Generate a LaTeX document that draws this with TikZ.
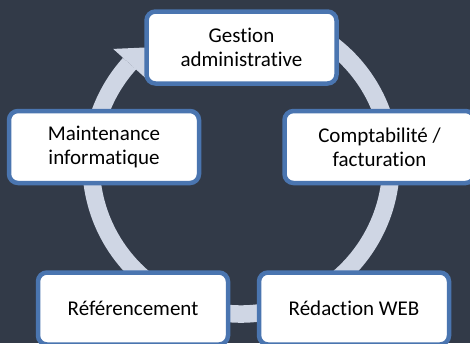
\documentclass[tikz,border=0pt]{standalone}
\usepackage{fontspec}
\setmainfont{Carlito}[RawFeature=-liga]
\usetikzlibrary{calc}
\definecolor{fond}{RGB}{50,58,72}
\definecolor{anneau}{RGB}{207,214,228}
\definecolor{bord}{RGB}{74,117,176}
\tikzset{
	etape/.style={draw=bord, line width=4.5pt, fill=white, rounded corners=9pt,
		minimum width=190pt, minimum height=72pt, inner sep=0pt,
		align=center, font=\fontsize{21}{24}\selectfont},
}

\begin{document}
\begin{tikzpicture}[x=1pt,y=-1pt]
			\fill[fond] (0,0) rectangle (470,343);
			\useasboundingbox (0,0) rectangle (470,343);
			\path
			(241,164) coordinate (O)
			(241.5,47.5) coordinate (G)
			(379.5,147) coordinate (C)
			(354,308.5) coordinate (R)
			(133,308.5) coordinate (F)
			(104,147) coordinate (M)
			;
			% anneau du cycle
			\draw[anneau, line width=17.5pt]
			(O) ++(-60:150) arc[start angle=-60, end angle=222, radius=150];
			\fill[anneau]
			($(O)+(222:128)$) -- ($(O)+(222:172)$) -- ($(O)+(231:150)$) -- cycle;
			% etapes
			\node[etape] (gestion) at (G) {Gestion\\administrative};
			\node[etape] (compta) at (C) {Comptabilité /\\facturation};
			\node[etape] (redac) at (R) {Rédaction WEB};
			\node[etape] (refer) at (F) {Référencement};
			\node[etape] (maint) at (M) {Maintenance\\informatique};
		\end{tikzpicture}
\end{document}
